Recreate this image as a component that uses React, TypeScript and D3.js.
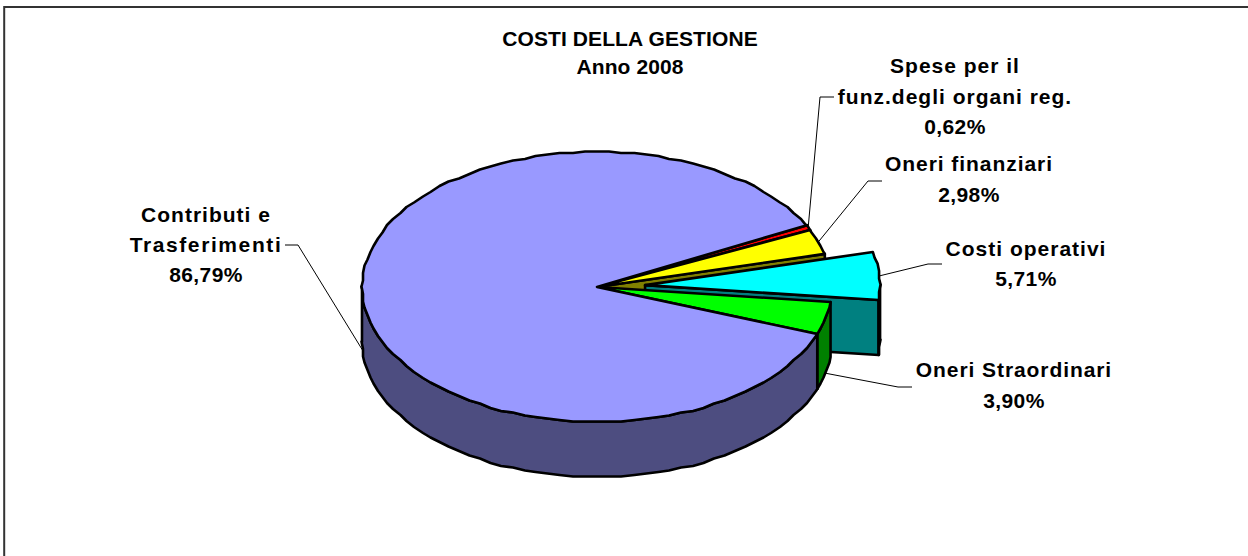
import React from 'react'
import * as d3 from 'd3'

const categories = ['Contributi e Trasferimenti', 'Spese per il funz.degli organi reg.', 'Oneri finanziari', 'Costi operativi', 'Oneri Straordinari']
const values = [86.79, 0.62, 2.98, 5.71, 3.90]
const percentLabels = ['86,79%', '0,62%', '2,98%', '5,71%', '3,90%']
const labelLines = [
  ['Contributi e', 'Trasferimenti', '86,79%'],
  ['Spese per il', 'funz.degli organi reg.', '0,62%'],
  ['Oneri finanziari', '2,98%'],
  ['Costi operativi', '5,71%'],
  ['Oneri Straordinari', '3,90%'],
]
const titleLines = ['COSTI DELLA GESTIONE', 'Anno 2008']

const topColors = ['#9999FF', '#FF0000', '#FFFF00', '#00FFFF', '#00FF00']
const wallColors = ['#4D4D80', '#800000', '#808000', '#008080', '#008000']
const explode = [0, 0, 0, 0.205, 0]

// layout of the text and the leader elbows
const labelCenters = [206, 955, 969, 1026, 1014]
const labelBaselines = [222, 73, 171, 256, 377]
const lineGaps = [30, 30.5, 31, 29.5, 31]
const letterGaps = [[1, 1.6, 0.4], [1, 1, 0.4], [0.95, 0.4], [1, 0.4], [0.92, 0.4]]
const elbows = [[298, 245], [820, 97], [868, 181], [928, 264], [898, 387]]
const leaderEnds = [[285, 245], [834, 97], [882, 181], [942, 264], [912, 387]]

const width = 1248, height = 556
const cx = 597, cy = 287, rx = 235, ry = 135, depth = 55
const FONT = '"Liberation Sans", Arial, sans-serif'
const TAU = Math.PI * 2

const x = d3.scaleLinear().domain([-1, 1]).range([cx - rx, cx + rx])
const y = d3.scaleLinear().domain([-1, 1]).range([cy + ry, cy - ry])

const pie = d3.pie<number>().sort(null).startAngle((110.4 * Math.PI) / 180).endAngle((470.4 * Math.PI) / 180)
const arcs = pie(values)

// the reference outline is a coarse wobbly polygon, so snap the samples to a small grid
const STEP = (3 * Math.PI) / 180
const snap = (v: number) => Math.round(v / 1.5) * 1.5
const line = d3.line()

function rimPoints(a0: number, a1: number, dx: number, dy: number) {
  const pts: [number, number][] = [[x(Math.sin(a0)) + dx, y(Math.cos(a0)) + dy]]
  for (let a = Math.ceil(a0 / STEP) * STEP; a < a1; a += STEP) {
    pts.push([snap(x(Math.sin(a))) + dx, snap(y(Math.cos(a))) + dy])
  }
  pts.push([x(Math.sin(a1)) + dx, y(Math.cos(a1)) + dy])
  return pts
}

function offsetOf(i: number) {
  const mid = (arcs[i].startAngle + arcs[i].endAngle) / 2
  return [explode[i] * rx * Math.sin(mid), -explode[i] * ry * Math.cos(mid)]
}

function Slice({ i, last }: { i: number; last: boolean }) {
  const { startAngle: a0, endAngle: a1 } = arcs[i]
  const [dx, dy] = offsetOf(i)
  const apex: [number, number] = [cx + dx, cy + dy]
  const top = rimPoints(a0, a1, dx, dy)

  // side wall: only the part of the rim that faces the viewer (lower half of the ellipse)
  const wrap = a1 > TAU + Math.PI / 2 ? TAU : 0
  const w0 = Math.max(a0 - wrap, Math.PI / 2)
  const w1 = Math.min(a1 - wrap, (3 * Math.PI) / 2)
  const rim = w1 > w0 ? rimPoints(w0, w1, dx, dy) : []
  const wall = rim.concat(rim.slice().reverse().map(([px, py]) => [px, py + depth] as [number, number]))

  const end = top[top.length - 1]
  const face: [number, number][] = [apex, end, [end[0], end[1] + depth], [apex[0], apex[1] + depth]]

  return (
    <g stroke="#000" strokeWidth={2.6} strokeLinejoin="round">
      {!last && <path d={line(face) + 'Z'} fill={wallColors[i]} />}
      {wall.length > 0 && <path d={line(wall) + 'Z'} fill={wallColors[i]} />}
      <path d={line([apex, ...top]) + 'Z'} fill={topColors[i]} />
    </g>
  )
}

function Leader({ i }: { i: number }) {
  const mid = (arcs[i].startAngle + arcs[i].endAngle) / 2
  const [dx, dy] = offsetOf(i)
  const front = Math.cos(mid) < 0
  const start: [number, number] = [x(Math.sin(mid)) + dx, y(Math.cos(mid)) + dy + (front ? depth : 0)]
  return (
    <path
      d={line([start, elbows[i] as [number, number], leaderEnds[i] as [number, number]]) as string}
      fill="none"
      stroke="#000"
      strokeWidth={1}
    />
  )
}

export default function App() {
  const paintOrder = [1, 2, 3, 4, 0]
  return (
    <svg width={width} height={height} style={{ position: 'absolute', left: 0, top: 0, background: '#fff' }}>
      <path d={`M4.2,${height}V7H${width}`} fill="none" stroke="#333" strokeWidth={2} />
      {values.map((_, i) => <Leader key={percentLabels[i]} i={i} />)}
      {paintOrder.map((i, k) => <Slice key={categories[i]} i={i} last={k === paintOrder.length - 1} />)}
      <g fontFamily={FONT} fontWeight="bold" fontSize={21} fill="#000" textAnchor="middle">
        {titleLines.map((t, k) => (
          <text key={t} x={630} y={46 + k * 28} letterSpacing={0.1}>{t}</text>
        ))}
        {labelLines.map((lines, i) =>
          lines.map((t, k) => (
            <text
              key={t}
              x={labelCenters[i]}
              y={labelBaselines[i] + k * lineGaps[i]}
              letterSpacing={letterGaps[i][k]}
            >
              {t}
            </text>
          ))
        )}
      </g>
    </svg>
  )
}
